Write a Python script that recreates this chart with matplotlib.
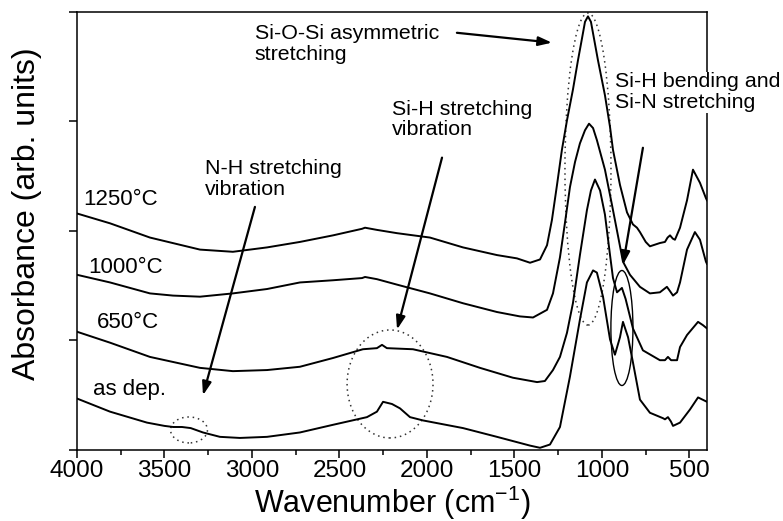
import matplotlib
matplotlib.use("Agg")
import matplotlib.pyplot as plt
from matplotlib.patches import Ellipse

plt.rcParams["font.family"] = ["Liberation Sans", "DejaVu Sans"]
plt.rcParams["mathtext.fontset"] = "custom"
plt.rcParams["mathtext.rm"] = "Liberation Sans"
plt.rcParams["mathtext.it"] = "Liberation Sans:italic"

OUT_FILE = "out.png"

# spectra (wavenumber in cm-1, absorbance offset arb. units)
wn_1250 = [4000, 3811, 3583, 3297, 3109, 2914, 2726, 2537, 2371, 2354, 2286,
           2171, 1983, 1794, 1600, 1486, 1411, 1354, 1314, 1286, 1257, 1229,
           1200, 1166, 1137, 1114, 1097, 1080, 1063, 1023, 983, 954, 937, 897,
           857, 823, 800, 783, 750, 726, 669, 640, 625, 611, 595, 583, 554,
           514, 480, 440, 406, 400]
abs_1250 = [2.16, 2.07, 1.94, 1.83, 1.81, 1.85, 1.90, 1.96, 2.02, 2.03, 2.01,
            1.98, 1.94, 1.85, 1.78, 1.75, 1.71, 1.74, 1.87, 2.10, 2.42, 2.74,
            3.01, 3.29, 3.56, 3.76, 3.91, 3.96, 3.91, 3.56, 3.24, 2.95, 2.74,
            2.42, 2.17, 2.06, 2.03, 1.99, 1.90, 1.86, 1.89, 1.90, 1.94, 1.96,
            1.93, 1.92, 2.03, 2.28, 2.56, 2.44, 2.30, 2.28]

wn_1000 = [4000, 3811, 3583, 3451, 3297, 3109, 2914, 2726, 2537, 2371, 2354,
           2286, 2171, 1983, 1794, 1600, 1469, 1394, 1314, 1280, 1240, 1211,
           1183, 1154, 1126, 1097, 1074, 1051, 1029, 983, 943, 909, 880, 840,
           783, 726, 669, 629, 611, 594, 571, 554, 514, 469, 440, 406, 400]
abs_1000 = [1.60, 1.53, 1.43, 1.41, 1.40, 1.43, 1.47, 1.53, 1.55, 1.57, 1.58,
            1.56, 1.51, 1.43, 1.34, 1.26, 1.22, 1.21, 1.28, 1.43, 1.76, 2.08,
            2.40, 2.63, 2.80, 2.92, 2.98, 2.94, 2.83, 2.56, 2.24, 1.96, 1.72,
            1.60, 1.49, 1.43, 1.44, 1.49, 1.45, 1.41, 1.44, 1.53, 1.83, 1.99,
            1.92, 1.72, 1.70]

wn_650 = [4000, 3811, 3583, 3297, 3109, 2914, 2726, 2537, 2366, 2286, 2257,
          2229, 2080, 1886, 1697, 1509, 1371, 1326, 1280, 1240, 1200, 1166,
          1126, 1086, 1063, 1040, 1011, 983, 954, 937, 914, 886, 865, 823,
          766, 669, 640, 623, 605, 571, 554, 514, 451, 423, 400]
abs_650 = [1.08, 0.98, 0.85, 0.75, 0.72, 0.73, 0.76, 0.84, 0.92, 0.93, 0.96,
           0.93, 0.92, 0.85, 0.75, 0.66, 0.62, 0.63, 0.73, 0.85, 1.07, 1.34,
           1.78, 2.19, 2.37, 2.47, 2.37, 2.15, 1.78, 1.57, 1.44, 1.48, 1.38,
           1.11, 0.91, 0.82, 0.82, 0.85, 0.82, 0.82, 0.94, 1.05, 1.17, 1.14,
           1.11]

wn_dep = [4000, 3811, 3600, 3500, 3450, 3400, 3350, 3280, 3183, 3069, 2914,
          2726, 2537, 2343, 2286, 2251, 2200, 2154, 2097, 2023, 1794, 1600,
          1411, 1354, 1297, 1240, 1183, 1126, 1086, 1051, 1029, 994, 954, 926,
          897, 880, 851, 823, 783, 726, 651, 640, 623, 606, 594, 554, 497, 451,
          400]
abs_dep = [0.47, 0.35, 0.25, 0.22, 0.21, 0.21, 0.20, 0.16, 0.12, 0.11, 0.12,
           0.16, 0.23, 0.30, 0.35, 0.44, 0.42, 0.38, 0.30, 0.27, 0.20, 0.12,
           0.04, 0.02, 0.05, 0.21, 0.67, 1.19, 1.53, 1.64, 1.62, 1.40, 1.01,
           0.87, 1.03, 1.17, 1.03, 0.80, 0.46, 0.34, 0.29, 0.28, 0.30, 0.26,
           0.22, 0.25, 0.37, 0.48, 0.44]

curve_labels = ["1250°C", "1000°C", "650°C", "as dep."]
x_ticks = [4000, 3500, 3000, 2500, 2000, 1500, 1000, 500]


def main():
  fig = plt.figure(figsize=(7.83, 5.21), dpi=100)
  ax = fig.add_axes([0.0983, 0.1363, 0.8046, 0.8407])

  for wn, ab in [(wn_1250, abs_1250), (wn_1000, abs_1000),
                 (wn_650, abs_650), (wn_dep, abs_dep)]:
    ax.plot(wn, ab, color="black", lw=1.4, solid_joinstyle="round")

  ax.set_xlim(4000, 400)
  ax.set_ylim(0, 4)
  ax.set_xticks(x_ticks)
  ax.set_xticks(range(3750, 400, -500), minor=True)
  ax.set_yticks([0, 1, 2, 3, 4])
  ax.set_yticklabels([])
  ax.tick_params(axis="both", which="major", direction="out", length=6,
                 width=1.1, labelsize=17.5)
  ax.tick_params(axis="x", which="minor", direction="out", length=3.5,
                 width=1.1)
  ax.tick_params(axis="x", pad=1.5)
  for sp in ax.spines.values():
    sp.set_linewidth(1.1)

  ax.set_xlabel("Wavenumber (cm$^{-1}$)", fontsize=22)
  ax.set_ylabel("Absorbance (arb. units)", fontsize=23)
  ax.yaxis.set_label_coords(-0.056, 0.54)
  ax.xaxis.set_label_coords(0.5, -0.078)

  # curve labels
  label_pos = [(0.0095, 0.559), (0.0175, 0.404), (0.032, 0.279), (0.025, 0.126)]
  for text, (x, y) in zip(curve_labels, label_pos):
    ax.text(x, y, text, transform=ax.transAxes, fontsize=16, va="baseline")

  # band annotations
  fs = 15.4
  ax.text(0.2825, 0.972, "Si-O-Si asymmetric\nstretching", transform=ax.transAxes,
          fontsize=fs, va="top", linespacing=1.1)
  ax.text(0.203, 0.664, "N-H stretching\nvibration", transform=ax.transAxes,
          fontsize=fs, va="top", linespacing=1.1)
  ax.text(0.500, 0.800, "Si-H stretching\nvibration", transform=ax.transAxes,
          fontsize=fs, va="top", linespacing=1.1)
  ax.text(0.854, 0.862, "Si-H bending and\nSi-N stretching",
          transform=ax.transAxes, fontsize=fs, va="top", linespacing=1.1,
          clip_on=False, zorder=5,
          bbox=dict(facecolor="white", edgecolor="none", pad=0.5))

  arrow = dict(arrowstyle="-|>,head_length=0.5,head_width=0.17",
               color="black", lw=1.6, mutation_scale=16,
               shrinkA=0, shrinkB=0)
  ax.annotate("", xy=(1286, 3.72), xytext=(1829, 3.81), arrowprops=arrow)
  ax.annotate("", xy=(2171, 1.10), xytext=(1914, 2.67), arrowprops=arrow)
  ax.annotate("", xy=(3280, 0.50), xytext=(2983, 2.22), arrowprops=arrow)
  ax.annotate("", xy=(880, 1.69), xytext=(766, 2.76), arrowprops=arrow)

  dotted = dict(fill=False, edgecolor="#333333", lw=1.1, linestyle=(0, (1, 2.5)))
  ax.add_patch(Ellipse((1080, 2.566), 263, 2.85, **dotted))
  ax.add_patch(Ellipse((2211, 0.603), 491, 0.986, **dotted))
  ax.add_patch(Ellipse((3360, 0.183), 211, 0.237, **dotted))
  ax.add_patch(Ellipse((886, 1.114), 126, 1.05, fill=False, edgecolor="black",
                       lw=1.0))

  fig.savefig(OUT_FILE, dpi=100)


if __name__ == "__main__":
  main()
